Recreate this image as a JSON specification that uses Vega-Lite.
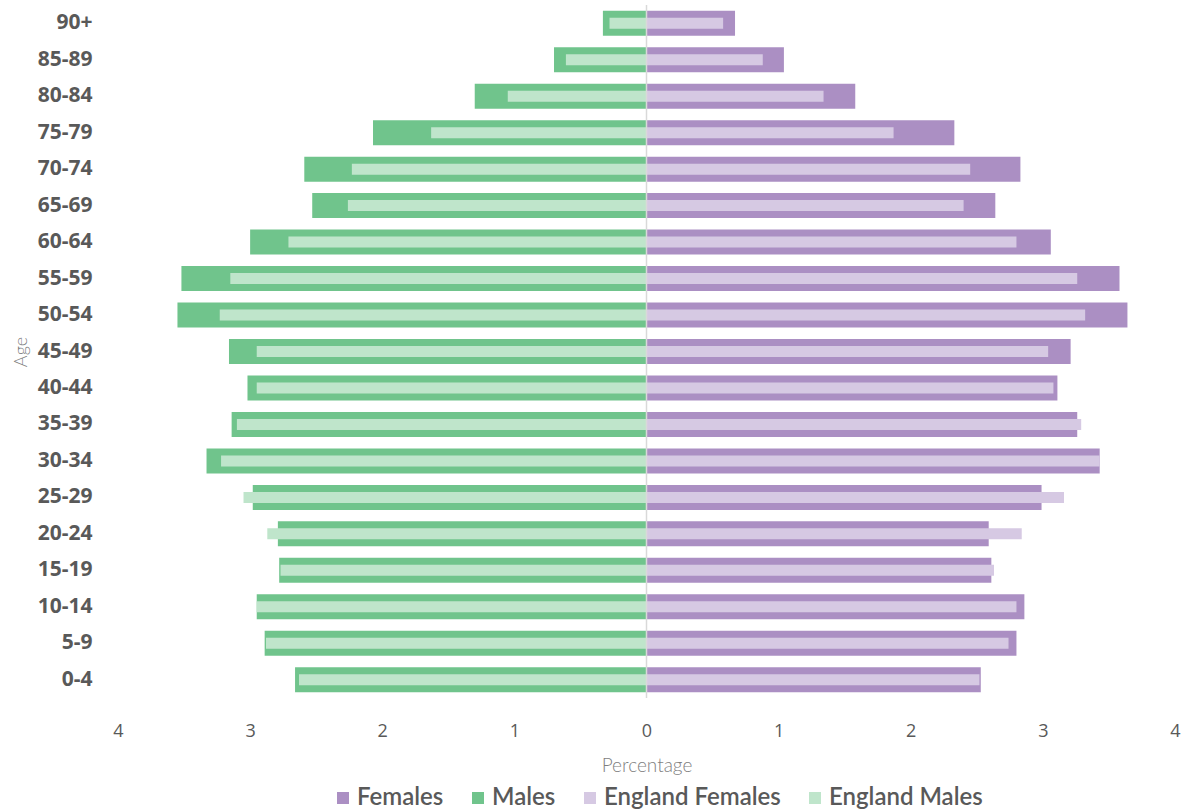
{
  "$schema": "https://vega.github.io/schema/vega-lite/v6.json",
  "width": 1057,
  "height": 693,
  "autosize": {"type": "none"},
  "padding": {"left": 118, "top": 5, "right": 9, "bottom": 112},
  "background": "white",
  "config": {"view": {"stroke": null}},
  "datasets": {
    "pop": [
      {"age": "90+", "series": "Females", "pct": 0.67}, {"age": "90+", "series": "Males", "pct": -0.33}, {"age": "90+", "series": "England Females", "pct": 0.58}, {"age": "90+", "series": "England Males", "pct": -0.28},
      {"age": "85-89", "series": "Females", "pct": 1.04}, {"age": "85-89", "series": "Males", "pct": -0.70}, {"age": "85-89", "series": "England Females", "pct": 0.88}, {"age": "85-89", "series": "England Males", "pct": -0.61},
      {"age": "80-84", "series": "Females", "pct": 1.58}, {"age": "80-84", "series": "Males", "pct": -1.30}, {"age": "80-84", "series": "England Females", "pct": 1.34}, {"age": "80-84", "series": "England Males", "pct": -1.05},
      {"age": "75-79", "series": "Females", "pct": 2.33}, {"age": "75-79", "series": "Males", "pct": -2.07}, {"age": "75-79", "series": "England Females", "pct": 1.87}, {"age": "75-79", "series": "England Males", "pct": -1.63},
      {"age": "70-74", "series": "Females", "pct": 2.83}, {"age": "70-74", "series": "Males", "pct": -2.59}, {"age": "70-74", "series": "England Females", "pct": 2.45}, {"age": "70-74", "series": "England Males", "pct": -2.23},
      {"age": "65-69", "series": "Females", "pct": 2.64}, {"age": "65-69", "series": "Males", "pct": -2.53}, {"age": "65-69", "series": "England Females", "pct": 2.40}, {"age": "65-69", "series": "England Males", "pct": -2.26},
      {"age": "60-64", "series": "Females", "pct": 3.06}, {"age": "60-64", "series": "Males", "pct": -3.00}, {"age": "60-64", "series": "England Females", "pct": 2.80}, {"age": "60-64", "series": "England Males", "pct": -2.71},
      {"age": "55-59", "series": "Females", "pct": 3.58}, {"age": "55-59", "series": "Males", "pct": -3.52}, {"age": "55-59", "series": "England Females", "pct": 3.26}, {"age": "55-59", "series": "England Males", "pct": -3.15},
      {"age": "50-54", "series": "Females", "pct": 3.64}, {"age": "50-54", "series": "Males", "pct": -3.55}, {"age": "50-54", "series": "England Females", "pct": 3.32}, {"age": "50-54", "series": "England Males", "pct": -3.23},
      {"age": "45-49", "series": "Females", "pct": 3.21}, {"age": "45-49", "series": "Males", "pct": -3.16}, {"age": "45-49", "series": "England Females", "pct": 3.04}, {"age": "45-49", "series": "England Males", "pct": -2.95},
      {"age": "40-44", "series": "Females", "pct": 3.11}, {"age": "40-44", "series": "Males", "pct": -3.02}, {"age": "40-44", "series": "England Females", "pct": 3.08}, {"age": "40-44", "series": "England Males", "pct": -2.95},
      {"age": "35-39", "series": "Females", "pct": 3.26}, {"age": "35-39", "series": "Males", "pct": -3.14}, {"age": "35-39", "series": "England Females", "pct": 3.29}, {"age": "35-39", "series": "England Males", "pct": -3.10},
      {"age": "30-34", "series": "Females", "pct": 3.43}, {"age": "30-34", "series": "Males", "pct": -3.33}, {"age": "30-34", "series": "England Females", "pct": 3.43}, {"age": "30-34", "series": "England Males", "pct": -3.22},
      {"age": "25-29", "series": "Females", "pct": 2.99}, {"age": "25-29", "series": "Males", "pct": -2.98}, {"age": "25-29", "series": "England Females", "pct": 3.16}, {"age": "25-29", "series": "England Males", "pct": -3.05},
      {"age": "20-24", "series": "Females", "pct": 2.59}, {"age": "20-24", "series": "Males", "pct": -2.79}, {"age": "20-24", "series": "England Females", "pct": 2.84}, {"age": "20-24", "series": "England Males", "pct": -2.87},
      {"age": "15-19", "series": "Females", "pct": 2.61}, {"age": "15-19", "series": "Males", "pct": -2.78}, {"age": "15-19", "series": "England Females", "pct": 2.63}, {"age": "15-19", "series": "England Males", "pct": -2.77},
      {"age": "10-14", "series": "Females", "pct": 2.86}, {"age": "10-14", "series": "Males", "pct": -2.95}, {"age": "10-14", "series": "England Females", "pct": 2.80}, {"age": "10-14", "series": "England Males", "pct": -2.95},
      {"age": "5-9", "series": "Females", "pct": 2.80}, {"age": "5-9", "series": "Males", "pct": -2.89}, {"age": "5-9", "series": "England Females", "pct": 2.74}, {"age": "5-9", "series": "England Males", "pct": -2.88},
      {"age": "0-4", "series": "Females", "pct": 2.53}, {"age": "0-4", "series": "Males", "pct": -2.66}, {"age": "0-4", "series": "England Females", "pct": 2.52}, {"age": "0-4", "series": "England Males", "pct": -2.63}
    ],
    "zero": [{"pct": 0}]
  },
  "layer": [
    {
      "data": {"name": "pop"},
      "transform": [{"filter": "datum.series === 'Females' || datum.series === 'Males'"}],
      "mark": {"type": "bar", "size": 25},
      "encoding": {
        "y": {
          "field": "age", "type": "nominal",
          "scale": {"domain": ["90+", "85-89", "80-84", "75-79", "70-74", "65-69", "60-64", "55-59", "50-54", "45-49", "40-44", "35-39", "30-34", "25-29", "20-24", "15-19", "10-14", "5-9", "0-4"], "paddingInner": 0.32, "paddingOuter": 0.16},
          "axis": {
            "title": "Age", "titleFont": "Lato", "titleFontSize": 18, "titleFontWeight": 300, "titleColor": "#7f7f7f", "titlePadding": 7,
            "labelFont": "Open Sans", "labelFontWeight": "bold", "labelFontSize": 21, "labelColor": "#595959", "labelPadding": 26,
            "ticks": false, "domain": false, "grid": false
          }
        },
        "x": {
          "field": "pct", "type": "quantitative",
          "scale": {"domain": [-4, 4], "nice": false},
          "axis": {
            "values": [-4, -3, -2, -1, 0, 1, 2, 3, 4], "labelExpr": "abs(datum.value)",
            "title": "Percentage", "titleFont": "Lato", "titleFontSize": 19, "titleFontWeight": 300, "titleColor": "#7f7f7f", "titlePadding": 16,
            "labelFont": "Open Sans", "labelFontSize": 18, "labelColor": "#595959", "labelPadding": 24, "labelFlush": false,
            "ticks": false, "domain": false, "grid": false
          }
        },
        "color": {
          "field": "series", "type": "nominal",
          "scale": {"domain": ["Females", "Males", "England Females", "England Males"], "range": ["#ab8fc3", "#70c48c", "#d6c9e3", "#bfe5cb"]},
          "legend": {
            "title": null, "orient": "none", "direction": "horizontal", "legendX": 213, "legendY": 781,
            "symbolType": "square", "symbolSize": 144, "symbolStrokeWidth": 0, "symbolOpacity": 1,
            "labelFont": "Lato", "labelFontSize": 24, "labelColor": "#595959", "labelFontWeight": 600, "labelLimit": 400,
            "columnPadding": 22, "labelOffset": 2
          }
        }
      }
    },
    {
      "data": {"name": "pop"},
      "transform": [{"filter": "datum.series === 'England Females' || datum.series === 'England Males'"}],
      "mark": {"type": "bar", "size": 11},
      "encoding": {
        "y": {"field": "age", "type": "nominal"},
        "x": {"field": "pct", "type": "quantitative"},
        "color": {"field": "series", "type": "nominal"}
      }
    },
    {
      "data": {"name": "zero"},
      "mark": {"type": "rule", "color": "#d9d9d9", "strokeWidth": 1.5},
      "encoding": {"x": {"field": "pct", "type": "quantitative"}}
    }
  ]
}
